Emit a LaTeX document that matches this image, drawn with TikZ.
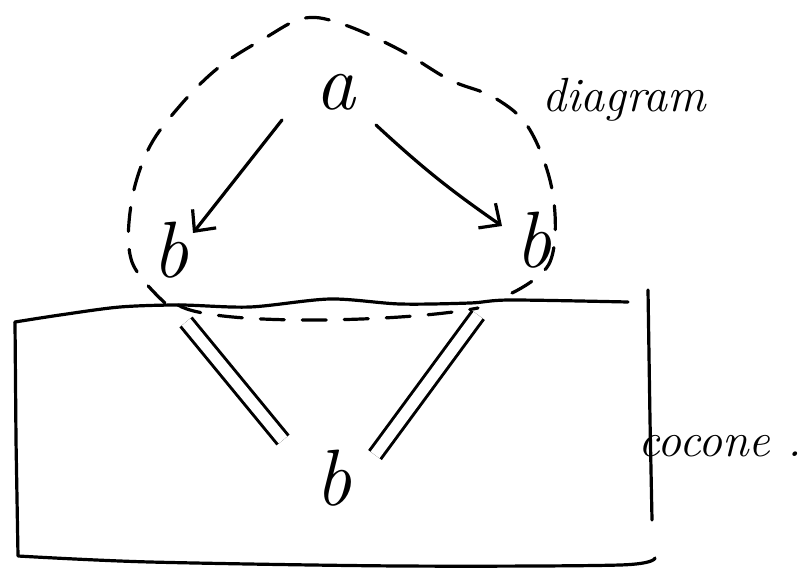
\documentclass[tikz,border=0pt]{standalone}
\usetikzlibrary{arrows.meta}
\begin{document}
\begin{tikzpicture}[x=1pt,y=-1pt,
  pen/.style={line width=3.2pt, line cap=round, line join=round, black},
  lbl/.style={font=\fontsize{80}{82}\selectfont\itshape, inner sep=0pt},
  note/.style={font=\fontsize{48}{50}\selectfont\itshape, inner sep=0pt},
  arr/.style={pen, -{Straight Barb[length=16pt,width=30pt,line width=3.2pt]}},
  eq/.style={line width=3pt, double, double distance=11pt, line cap=butt},
  dsh/.style={pen, dash pattern=on 24pt off 18pt}]
\useasboundingbox (0,0) rectangle (805,572);

% nodes
\node[lbl] (a)  at (335,92)  {a};
\node[lbl] (bl) at (170,250) {b};
\node[lbl] (br) at (533,240) {b};
\node[lbl] (bb) at (333,478) {b};

% labels
\node[note, anchor=base] (diag) at (624,112) {diagram};
\node[note, anchor=base west] (coc) at (638,456) {cocone .};

% arrows of the diagram
\draw[arr] ([shift={(-53,28)}]a.center) -- ([shift={(23,-17)}]bl.center);
\draw[arr] ([shift={(41,33)}]a.center) to[bend right=4] ([shift={(-31,-14)}]br.center);

% cocone legs (double lines)
\draw[eq] ([shift={(16,72)}]bl.center) -- ([shift={(-50,-38)}]bb.center);
\draw[eq] ([shift={(-55,75)}]br.center) -- ([shift={(42,-23)}]bb.center);

% dashed loop round the diagram
\draw[dsh] plot[smooth, tension=0.6] coordinates {([shift={(-5,53)}]bl.center) (132,262) (131,205) (148,150) (178,108) (218,68) (265,38) (305,18) (345,25) (400,50) (450,80) (495,98) (530,130) (553,195) (550,262) ([shift={(-21,53)}]br.center)};

% dashed line under the base
\draw[dsh] ([shift={(8,55)}]bl.center) .. controls +(35,22) and +(-70,14) .. ([shift={(-55,68)}]br.center);

% the cocone box
\draw[pen] plot[smooth, tension=0.5] coordinates {(15,322) (60,315) (120,307) (180,305) (250,307) (330,299) (400,304) (470,303) (510,300) (628,302)};
\draw[pen] (15,322) -- (16,440) -- (18,556) plot[smooth, tension=0.5] coordinates {(18,556) (150,562) (400,566) (620,565) (655,558)};
\draw[pen] (648,290) -- (650,420) -- (652,520);
\end{tikzpicture}
\end{document}
